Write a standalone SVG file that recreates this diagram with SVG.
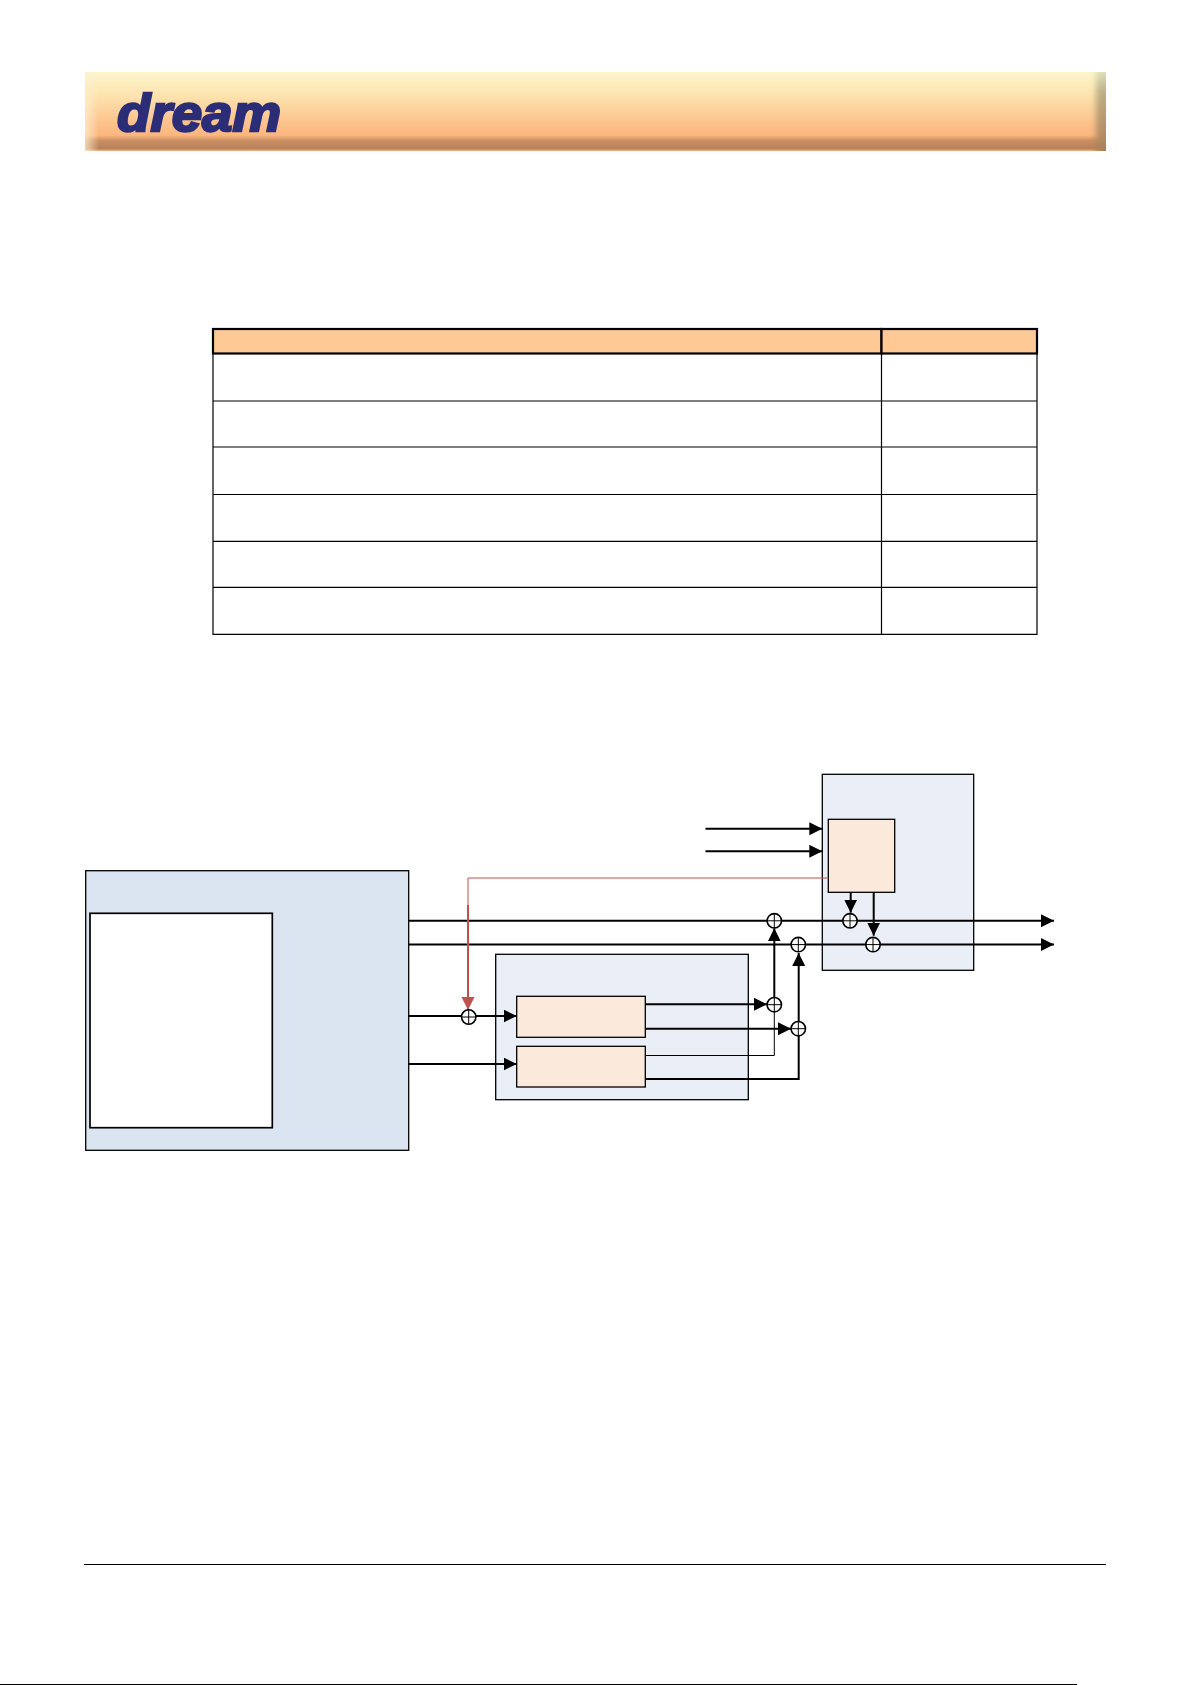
<svg xmlns="http://www.w3.org/2000/svg" width="1192" height="1685" viewBox="0 0 1192 1685">
<defs>
<linearGradient id="bannerV" x1="0" y1="0" x2="0" y2="1">
<stop offset="0" stop-color="#fdf6cc"/>
<stop offset="0.3" stop-color="#fde3ae"/>
<stop offset="0.62" stop-color="#fdc48e"/>
<stop offset="0.8" stop-color="#fbb67e"/>
<stop offset="0.87" stop-color="#c98f62"/>
<stop offset="0.97" stop-color="#ba8058"/>
<stop offset="1" stop-color="#f4b48c"/>
</linearGradient>
<linearGradient id="bannerR" x1="0" y1="0" x2="0" y2="1">
<stop offset="0" stop-color="#e6ecc8"/>
<stop offset="0.3" stop-color="#bcae84"/>
<stop offset="0.8" stop-color="#b08a62"/>
<stop offset="1" stop-color="#a87a52"/>
</linearGradient>
<linearGradient id="bannerL" x1="0" y1="0" x2="1" y2="0">
<stop offset="0" stop-color="#fdf0d0" stop-opacity="0.75"/>
<stop offset="1" stop-color="#fdf0d0" stop-opacity="0"/>
</linearGradient>
<clipPath id="bannerClip"><rect x="85" y="72" width="1021" height="79"/></clipPath>
<filter id="soft" x="-100%" y="-10%" width="300%" height="120%"><feGaussianBlur stdDeviation="3"/></filter>
<marker id="arrow" markerUnits="userSpaceOnUse" markerWidth="14" markerHeight="14" refX="13" refY="6.500" orient="auto">
<path d="M0,0 L13,6.500 L0,13 Z" fill="#000"/>
</marker>
<marker id="arrowRed" markerUnits="userSpaceOnUse" markerWidth="14" markerHeight="14" refX="13" refY="6.500" orient="auto">
<path d="M0,0 L13,6.500 L0,13 Z" fill="#c0504d"/>
</marker>
</defs>
<style>
.box{stroke:#000;stroke-width:1.3}
.outer{fill:#e9eef7}
.left{fill:#dbe5f1}
.inner{fill:#fbe9db}
.plain{fill:#fff;stroke:#000;stroke-width:1.7}
.wire{fill:none;stroke:#000;stroke-width:2}
.thin{fill:none;stroke:#000;stroke-width:1}
.arrow{marker-end:url(#arrow)}
.red{fill:none;stroke:#c0504d}
.sum circle{fill:#fff;stroke:#000;stroke-width:1.6}
.sum path{fill:none;stroke:#000;stroke-width:1}
.grid{fill:none;stroke:#000;stroke-width:1.2}
.head{fill:#fec994;stroke:#000;stroke-width:2.2}
</style>
<rect width="1192" height="1685" fill="#fff"/>

<g id="banner">
<rect x="85" y="72" width="1021" height="79" fill="url(#bannerV)"/>
<rect x="85" y="72" width="14" height="79" fill="url(#bannerL)"/>
<g clip-path="url(#bannerClip)"><rect x="1096" y="66" width="16" height="90" fill="url(#bannerR)" filter="url(#soft)"/></g>
<text x="117" y="131" font-family="'Liberation Sans',sans-serif" font-size="52" font-weight="700" font-style="italic" fill="#2b2d77" stroke="#2b2d77" stroke-width="2.4" textLength="164" lengthAdjust="spacingAndGlyphs">dream</text>
</g>

<g id="table">
<rect class="head" x="213" y="329" width="668.500" height="24.500"/>
<rect class="head" x="881.500" y="329" width="155.500" height="24.500"/>
<path class="grid" d="M213,353.500V634.300H1037V353.500M881.500,353.500V634.300M213,401H1037M213,447H1037M213,494.500H1037M213,541.300H1037M213,587.300H1037"/>
</g>

<g id="node-left">
<rect class="box left" x="85.700" y="870.700" width="323" height="279.600"/>
<rect class="plain" x="90" y="913.300" width="182.300" height="214.400"/>
</g>
<g id="node-middle">
<rect class="box outer" x="495.700" y="954.300" width="252.600" height="145.400"/>
<rect class="box inner" x="516.700" y="996.300" width="128.600" height="41"/>
<rect class="box inner" x="516.700" y="1046.300" width="128.600" height="40.700"/>
</g>
<g id="node-right">
<rect class="box outer" x="822.300" y="774.300" width="151.400" height="196"/>
<rect class="box inner" x="828.300" y="819.300" width="66.400" height="73"/>
</g>

<g id="connectors">
<path class="wire arrow" d="M705.500,828.700H822.300"/>
<path class="wire arrow" d="M705.500,851.300H822.300"/>
<path class="wire arrow" d="M408.700,920.800H1054"/>
<path class="wire arrow" d="M408.700,944.600H1054"/>
<path class="red" stroke-width="1" d="M828.300,878H468V905"/>
<path class="red" stroke-width="2" style="marker-end:url(#arrowRed)" d="M468,905V1010"/>
<path class="wire" d="M408.700,1016H461"/>
<path class="wire arrow" d="M476,1016H516.700"/>
<path class="wire arrow" d="M408.700,1064H516.700"/>
<path class="wire arrow" d="M645.300,1004.300H767"/>
<path class="wire arrow" d="M645.300,1028.700H791"/>
<path class="thin" d="M645.300,1055.500H774.300V1010"/>
<path class="wire arrow" d="M774.300,1010V928.300"/>
<path class="wire arrow" d="M645.300,1079H798.700V953"/>
<path class="wire arrow" d="M850.700,892.300V912.700"/>
<path class="wire arrow" d="M873.700,892.300V935.700"/>
</g>

<g id="sums" class="sum">
<g id="sum-1"><circle cx="774.300" cy="920.800" r="7.200"/><path d="M767.100,920.800H781.500M774.300,913.600V928"/></g>
<g id="sum-2"><circle cx="798.300" cy="944.600" r="7.200"/><path d="M791.100,944.600H805.500M798.300,937.400V951.800"/></g>
<g id="sum-3"><circle cx="850" cy="920.800" r="7.200"/><path d="M842.800,920.800H857.200M850,913.600V928"/></g>
<g id="sum-4"><circle cx="873" cy="944.600" r="7.200"/><path d="M865.800,944.600H880.200M873,937.400V951.800"/></g>
<g id="sum-5"><circle cx="774.300" cy="1004.700" r="7.200"/><path d="M767.100,1004.700H781.500M774.300,997.500V1011.900"/></g>
<g id="sum-6"><circle cx="798.300" cy="1028.700" r="7.200"/><path d="M791.100,1028.700H805.500M798.300,1021.500V1035.900"/></g>
<g id="sum-7"><circle cx="468.700" cy="1017" r="7.200"/><path d="M461.500,1017H475.900M468.700,1009.800V1024.200"/></g>
</g>

<g id="footer">
<path d="M84,1564.500H1106" stroke="#000" stroke-width="1.2" fill="none"/>
<rect x="0" y="1684" width="1077" height="1" fill="#000"/>
</g>
</svg>
